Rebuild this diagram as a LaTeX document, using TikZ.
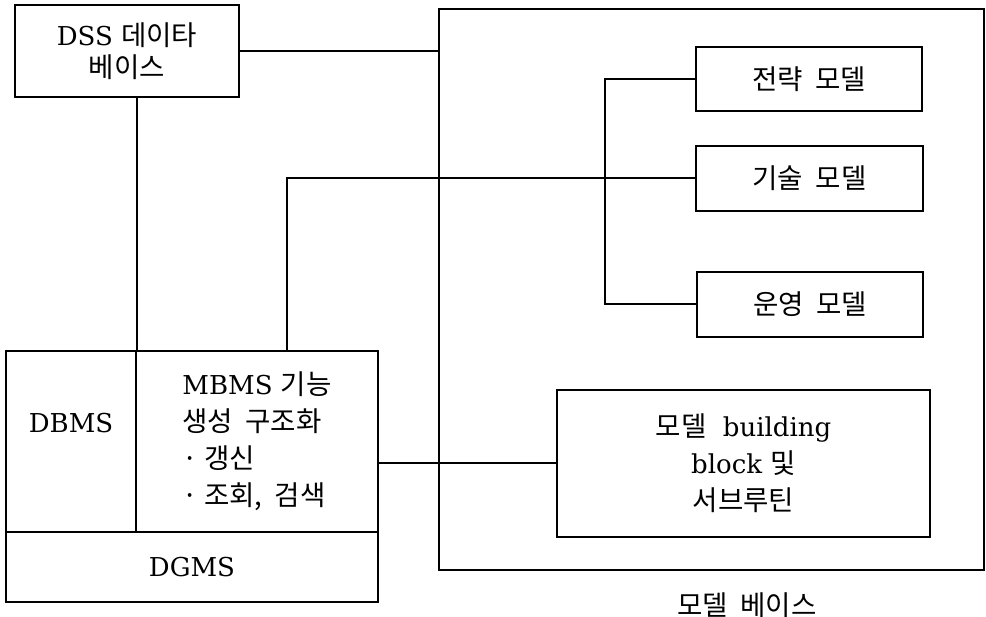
\documentclass[tikz,border=0pt]{standalone}
\usepackage{fontspec}
\setmainfont{DejaVu Serif}
\newfontfamily\kr{Noto Sans CJK KR}[Scale=1.06]
\usetikzlibrary{calc}

\begin{document}
\begin{tikzpicture}[x=1pt,y=-1pt,
  box/.style={draw, rectangle, inner sep=0pt, line width=2.2pt},
  txt/.style={font=\fontsize{26}{32}\selectfont, inner sep=0pt},
  wide/.style={font=\fontsize{26}{37}\selectfont},
  conn/.style={line width=2pt}]
\path[use as bounding box, fill=white] (0,0) rectangle (986,617);

% DSS database
\node[box, txt, align=center, minimum width=224pt, minimum height=92pt] (dss) at (127,51)
  {DSS {\kr 데이타}\\{\kr 베이스}};

% model base frame and its label
\node[box, minimum width=545pt, minimum height=561pt] (base) at (711.5,289.5) {};
\node[txt] (baselabel) at (747,605) {\kr 모델 \ 베이스};

% models inside the model base
\node[box, txt, minimum width=226pt, minimum height=64pt] (strat) at (809,79) {\kr 전략 \ 모델};
\node[box, txt, minimum width=227pt, minimum height=65pt] (tech) at (809.5,178.5) {\kr 기술 \ 모델};
\node[box, txt, minimum width=226pt, minimum height=65pt] (oper) at (810,304.5) {\kr 운영 \ 모델};
\node[box, txt, wide, align=center, minimum width=373pt, minimum height=147pt] (bb) at (743.5,463.5)
  {{\kr 모델} \ building\\block {\kr 및}\\{\kr 서브루틴}};

% DBMS / MBMS / DGMS block
\node[box, minimum width=130pt, minimum height=181pt] (dbms) at (71,441.5) {};
\node[txt] (dbmslabel) at (71,423) {DBMS};
\node[box, txt, wide, align=left, minimum width=242pt, minimum height=181pt] (mbms) at (257,441.5)
  {MBMS {\kr 기능}\\{\kr 생성 \ 구조화}\\{\kr · 갱신}\\{\kr · 조회, \ 검색}};
\node[box, txt, minimum width=372pt, minimum height=70pt] (dgms) at (192,567) {DGMS};

% connectors
\coordinate (trunk) at (605,200);
\draw[conn] (dss.east) -- (dss.east -| base.west);
\draw[conn] (dbms.north east) -- (dbms.north east |- dss.south);
\draw[conn] (tech.west) -| ([xshift=30pt]mbms.north);
\draw[conn] (strat.west) -| (trunk) |- (oper.west);
\draw[conn] (bb.west) -- (bb.west -| mbms.east);
\end{tikzpicture}
\end{document}
